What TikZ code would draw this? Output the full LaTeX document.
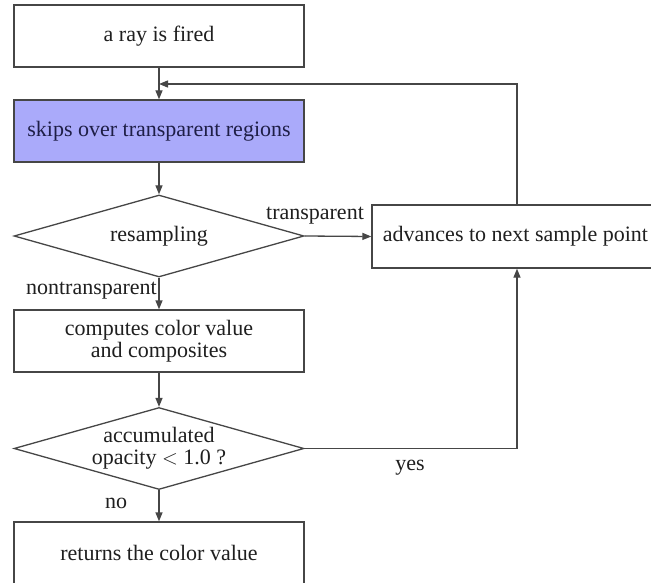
\documentclass[tikz,border=0pt]{standalone}
\usepackage{fontspec}
\setmainfont{Liberation Serif}
\usetikzlibrary{shapes.geometric,arrows.meta}
\definecolor{boxblue}{RGB}{170,170,250}
\definecolor{linegray}{RGB}{70,70,70}
\definecolor{navytext}{RGB}{30,30,70}
\begin{document}
\begin{tikzpicture}[x=1pt,y=-1pt,
  every node/.style={font=\fontsize{22}{25}\selectfont, text=black!88},
  procbox/.style={draw=linegray, line width=1.3pt, minimum width=290pt, minimum height=62pt, inner sep=0pt, align=center},
  decision/.style={draw=linegray, line width=1.3pt, diamond, aspect=3.54, minimum width=290pt, minimum height=82pt, inner sep=0pt},
  dtext/.style={align=center, inner sep=0pt},
  flow/.style={draw=linegray, line width=1.3pt, -{Triangle[length=9pt,width=7pt]}},
  lbl/.style={inner sep=0pt}
]
\useasboundingbox (0,0) rectangle (651,583);
\clip (0,0) rectangle (651,583);
\fill[white] (0,0) rectangle (651,583);

\node[procbox] (fired) at (159,36) {a ray is fired};
\node[procbox, fill=boxblue, text=navytext] (skip) at (159,131) {skips over transparent regions};
\node[decision] (resamp) at (159,236) {};
\node[dtext] (resampt) at (159,236) {resampling};
\node[procbox, minimum height=63pt] (adv) at (517,236.5) {\hspace*{-3pt}advances to next sample point};
\node[procbox] (comp) at (159,341) {computes color value\\[-3pt]and composites};
\node[decision] (accum) at (159,448.5) {};
\node[dtext] (accumt) at (159,448.5) {accumulated\\[-3pt]opacity $<$ 1.0 ?};
\node[procbox] (ret) at (159,553) {returns the color value};

\coordinate (fb) at (159,84);

\draw[flow] (fired) -- (skip);
\draw[flow] (skip) -- (resamp);
\draw[flow] (resamp.east) -- (adv.west);
\draw[flow] (resamp.south) -- (comp.north);
\draw[flow] (comp.south) -- (accum.north);
\draw[flow] (accum.south) -- (ret.north);
\draw[flow] (accum.east) -| (adv.south);
\draw[flow] (adv.north) |- (fb);

\node[lbl] (ltrans) at (315,216) {transparent};
\node[lbl, anchor=east] (lnon) at (157,291) {nontransparent};
\node[lbl] (lyes) at (410,468) {yes};
\node[lbl] (lno) at (116,503) {no};
\end{tikzpicture}
\end{document}
